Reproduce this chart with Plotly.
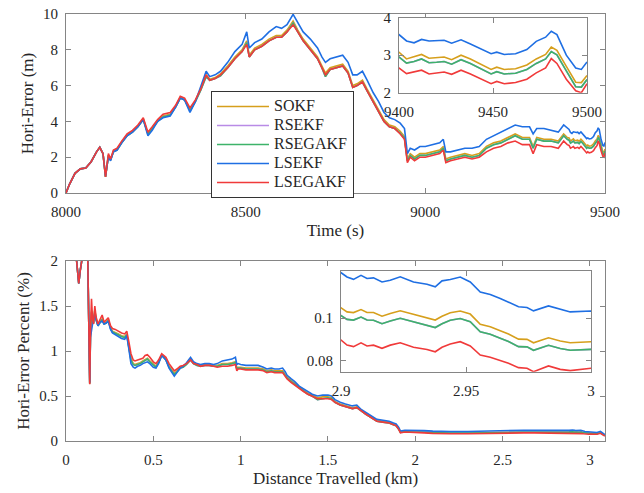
import plotly.graph_objects as go

names = ["SOKF", "RSEKF", "RSEGAKF", "LSEKF", "LSEGAKF"]
colors = ["#D69F1C", "#B98BE6", "#3DB36A", "#1F6FE3", "#F03A3A"]

# ---------------- top panel: time (s) vs horizontal error (m) ----------------
time_a = [8000, 8010, 8025, 8040, 8055, 8070, 8085, 8094, 8103, 8110,
          8118, 8124, 8132, 8142, 8155, 8170, 8185, 8200, 8215, 8228,
          8240, 8255, 8270, 8290, 8305, 8318, 8330, 8345, 8360, 8375,
          8390, 8400, 8415, 8430, 8450, 8470, 8490, 8503, 8510, 8525,
          8545, 8565, 8585, 8600, 8615, 8632, 8645, 8660, 8680, 8700,
          8712, 8722, 8735, 8755, 8770, 8785, 8798, 8810, 8825, 8838,
          8855, 8870, 8885, 8900, 8915, 8930, 8942, 8950, 8958, 8970,
          8985, 9000, 9020, 9040, 9050, 9057, 9070, 9090, 9110, 9130,
          9150, 9170, 9190, 9210, 9230, 9250, 9270, 9290, 9300, 9310,
          9330, 9350, 9370, 9385, 9395]
time_z = [9400, 9404, 9408, 9412, 9416, 9420, 9424, 9428, 9433, 9438,
          9443, 9449, 9452, 9456, 9462, 9468, 9473, 9478, 9481, 9484,
          9489, 9494, 9497, 9500]

sokf_err_a = [0, 0.5, 1.1, 1.35, 1.4, 1.75, 2.3, 2.55, 2.2, 0.9,
              2.1, 1.85, 2.35, 2.45, 2.85, 3.25, 3.45, 3.75, 4.15, 3.3,
              3.6, 4.05, 4.3, 4.4, 4.85, 5.35, 5.25, 4.6, 5.15, 5.8,
              6.6, 6.35, 6.45, 6.65, 7.1, 7.6, 8.0, 8.5, 7.7, 8.1,
              8.3, 8.6, 8.8, 8.8, 9.1, 9.6, 9.1, 8.6, 8.1, 7.6,
              7.1, 6.7, 7.0, 7.1, 7.2, 6.8, 6.0, 6.1, 6.3, 5.8,
              5.2, 4.7, 4.1, 3.8, 3.7, 3.45, 3.15, 1.9, 2.2, 2.0,
              2.2, 2.2, 2.3, 2.4, 2.6, 1.9, 2.0, 2.1, 2.2, 2.1,
              2.2, 2.6, 2.8, 2.9, 3.1, 3.3, 3.1, 3.1, 2.6, 3.1,
              3.0, 3.0, 2.9, 3.3, 3.1]
sokf_err_z = [3.08, 2.9, 2.95, 3.02, 2.92, 2.93, 2.95, 2.88, 3.0, 2.9,
              2.77, 2.62, 2.68, 2.62, 2.64, 2.74, 2.9, 3.02, 3.22, 3.13,
              2.7, 2.28, 2.27, 2.46]

rsekf_err_a = [0, 0.5, 1.1, 1.35, 1.4, 1.75, 2.3, 2.55, 2.2, 0.9,
               2.1, 1.85, 2.3, 2.4, 2.8, 3.2, 3.4, 3.7, 4.1, 3.3,
               3.6, 4.0, 4.25, 4.35, 4.8, 5.3, 5.2, 4.6, 5.1, 5.75,
               6.5, 6.3, 6.4, 6.55, 7.0, 7.5, 7.9, 8.4, 7.6, 8.0,
               8.2, 8.5, 8.7, 8.7, 9.0, 9.5, 9.0, 8.5, 8.0, 7.5,
               7.0, 6.5, 6.9, 7.0, 7.1, 6.7, 5.9, 6.0, 6.2, 5.7,
               5.1, 4.6, 4.0, 3.7, 3.6, 3.35, 3.05, 1.8, 2.1, 1.9,
               2.1, 2.1, 2.2, 2.3, 2.5, 1.8, 1.9, 2.0, 2.1, 2.0,
               2.1, 2.5, 2.7, 2.8, 3.0, 3.2, 3.0, 3.0, 2.5, 3.0,
               2.9, 2.9, 2.8, 3.2, 3.0]
rsekf_err_z = [2.95, 2.79, 2.83, 2.9, 2.8, 2.81, 2.83, 2.76, 2.88, 2.78,
               2.65, 2.5, 2.56, 2.5, 2.52, 2.62, 2.78, 2.9, 3.1, 3.01,
               2.58, 2.16, 2.15, 2.35]

rsegakf_err_a = [0, 0.5, 1.1, 1.35, 1.4, 1.75, 2.3, 2.55, 2.2, 0.9,
                 2.1, 1.85, 2.3, 2.4, 2.8, 3.2, 3.4, 3.7, 4.1, 3.3,
                 3.6, 4.0, 4.25, 4.35, 4.8, 5.3, 5.2, 4.6, 5.1, 5.75,
                 6.5, 6.3, 6.4, 6.55, 7.0, 7.5, 7.9, 8.4, 7.6, 8.0,
                 8.2, 8.5, 8.7, 8.7, 9.0, 9.5, 9.0, 8.5, 8.0, 7.5,
                 7.0, 6.5, 6.9, 7.0, 7.1, 6.7, 5.9, 6.0, 6.2, 5.7,
                 5.1, 4.6, 4.0, 3.7, 3.6, 3.35, 3.05, 1.8, 2.1, 1.9,
                 2.1, 2.1, 2.2, 2.3, 2.5, 1.8, 1.9, 2.0, 2.1, 2.0,
                 2.1, 2.5, 2.7, 2.8, 3.0, 3.2, 3.0, 3.0, 2.5, 3.0,
                 2.9, 2.9, 2.8, 3.2, 3.0]
rsegakf_err_z = [2.95, 2.79, 2.83, 2.9, 2.8, 2.81, 2.83, 2.76, 2.88, 2.78,
                 2.65, 2.5, 2.56, 2.5, 2.52, 2.62, 2.78, 2.9, 3.1, 3.01,
                 2.58, 2.16, 2.15, 2.35]

lsekf_err_a = [0, 0.5, 1.1, 1.35, 1.4, 1.75, 2.3, 2.55, 2.2, 0.95,
               2.0, 1.8, 2.3, 2.4, 2.8, 3.2, 3.4, 3.7, 4.1, 3.2,
               3.5, 4.0, 4.2, 4.3, 4.8, 5.3, 5.2, 4.5, 5.1, 5.9,
               6.8, 6.5, 6.6, 6.8, 7.3, 7.9, 8.3, 9.0, 8.1, 8.4,
               8.6, 9.0, 9.3, 9.2, 9.4, 9.98, 9.5, 9.0, 8.6, 8.1,
               7.6, 7.3, 7.5, 7.6, 7.7, 7.3, 6.6, 6.6, 6.8, 6.3,
               5.6, 5.1, 4.5, 4.2, 4.1, 3.9, 3.6, 2.2, 2.5, 2.4,
               2.6, 2.6, 2.7, 2.8, 3.0, 2.3, 2.3, 2.4, 2.5, 2.5,
               2.6, 3.0, 3.2, 3.4, 3.6, 3.8, 3.7, 3.7, 3.3, 3.6,
               3.6, 3.5, 3.4, 3.8, 3.6]
lsekf_err_z = [3.55, 3.38, 3.33, 3.42, 3.38, 3.38, 3.40, 3.32, 3.41, 3.3,
               3.18, 3.04, 3.08, 3.02, 3.04, 3.15, 3.37, 3.48, 3.64, 3.55,
               3.0, 2.66, 2.62, 2.82]

lsegakf_err_a = [0, 0.5, 1.1, 1.35, 1.4, 1.75, 2.3, 2.55, 2.2, 0.9,
                 2.2, 1.9, 2.4, 2.5, 2.9, 3.3, 3.5, 3.8, 4.2, 3.4,
                 3.7, 4.1, 4.4, 4.5, 4.9, 5.4, 5.3, 4.75, 5.2, 5.8,
                 6.6, 6.3, 6.4, 6.6, 7.0, 7.5, 7.9, 8.3, 7.6, 8.0,
                 8.2, 8.5, 8.7, 8.7, 9.0, 9.4, 9.0, 8.5, 8.0, 7.5,
                 7.0, 6.6, 6.9, 7.0, 7.1, 6.7, 5.9, 6.0, 6.2, 5.7,
                 5.1, 4.6, 4.0, 3.7, 3.6, 3.3, 3.0, 1.7, 2.0, 1.8,
                 2.0, 2.0, 2.1, 2.2, 2.4, 1.7, 1.8, 1.9, 2.0, 1.9,
                 2.0, 2.3, 2.5, 2.6, 2.8, 2.9, 2.7, 2.7, 2.2, 2.7,
                 2.6, 2.6, 2.5, 2.9, 2.7]
lsegakf_err_z = [2.66, 2.51, 2.55, 2.6, 2.5, 2.52, 2.55, 2.49, 2.6, 2.5,
                 2.38, 2.24, 2.30, 2.24, 2.27, 2.36, 2.53, 2.66, 2.91, 2.78,
                 2.36, 2.05, 2.0, 2.24]

# ---------------- bottom panel: distance (km) vs error percent (%) ----------------
dist_a = [0.056, 0.062, 0.073, 0.082, 0.09, 0.1, 0.113, 0.124, 0.131, 0.136,
          0.14, 0.146, 0.152, 0.158, 0.165, 0.172, 0.183, 0.195, 0.207, 0.218,
          0.23, 0.242, 0.255, 0.266, 0.282, 0.3, 0.318, 0.336, 0.348, 0.36,
          0.372, 0.385, 0.395, 0.41, 0.425, 0.44, 0.453, 0.466, 0.48, 0.5,
          0.515, 0.53, 0.548, 0.56, 0.572, 0.59, 0.605, 0.62, 0.635, 0.654,
          0.67, 0.69, 0.713, 0.73, 0.75, 0.77, 0.795, 0.82, 0.845, 0.866,
          0.895, 0.925, 0.95, 0.97, 0.978, 0.985, 1.0, 1.03, 1.06, 1.1,
          1.13, 1.15, 1.175, 1.195, 1.22, 1.24, 1.255, 1.266, 1.29, 1.31,
          1.335, 1.36, 1.385, 1.41, 1.44, 1.47, 1.5, 1.52, 1.54, 1.57,
          1.6, 1.62, 1.64, 1.665, 1.69, 1.715, 1.74, 1.76, 1.78, 1.815,
          1.85, 1.875, 1.89, 1.905, 1.915, 1.94, 1.97, 2.0, 2.05, 2.1,
          2.15, 2.2, 2.3, 2.4, 2.5, 2.56, 2.62, 2.68, 2.75, 2.82,
          2.88]
dist_z = [2.9, 2.9024, 2.905, 2.908, 2.9104, 2.913, 2.9164, 2.9197, 2.9237, 2.929,
          2.9344, 2.9377, 2.9404, 2.9437, 2.9477, 2.9517, 2.9557, 2.9597, 2.9637, 2.967,
          2.971, 2.9744, 2.977, 2.983, 2.9877, 2.9917, 3.0]
dist_t = [3.02, 3.04, 3.06, 3.07, 3.085]

sokf_pct_a = [2.1, 1.95, 1.75, 1.9, 2.0, 2.05, 2.2, 2.1, 1.4, 0.64,
              1.18, 1.45, 1.33, 1.32, 1.46, 1.36, 1.29, 1.33, 1.36, 1.31,
              1.32, 1.35, 1.26, 1.22, 1.21, 1.19, 1.17, 1.16, 1.19, 1.06,
              0.92, 0.86, 0.85, 0.86, 0.87, 0.89, 0.91, 0.92, 0.89, 0.85,
              0.83, 0.88, 0.96, 0.94, 0.91, 0.83, 0.79, 0.75, 0.78, 0.82,
              0.83, 0.86, 0.91, 0.87, 0.85, 0.84, 0.85, 0.85, 0.84, 0.84,
              0.86, 0.86, 0.87, 0.88, 0.81, 0.82, 0.82, 0.81, 0.81, 0.81,
              0.8, 0.78, 0.79, 0.78, 0.78, 0.78, 0.74, 0.71, 0.67, 0.64,
              0.6, 0.56, 0.53, 0.51, 0.48, 0.49, 0.49, 0.48, 0.44, 0.41,
              0.39, 0.38, 0.37, 0.38, 0.34, 0.31, 0.28, 0.25, 0.23, 0.22,
              0.21, 0.19, 0.18, 0.14, 0.1, 0.11, 0.105, 0.1, 0.1, 0.095,
              0.09, 0.09, 0.09, 0.095, 0.1, 0.105, 0.1, 0.1, 0.098, 0.1,
              0.102]
sokf_pct_z = [0.1048, 0.1029, 0.1026, 0.1040, 0.1026, 0.1026, 0.1009, 0.1022, 0.1034, 0.1019,
              0.1003, 0.0991, 0.1009, 0.1025, 0.1033, 0.1019, 0.0971, 0.0960, 0.0941, 0.0926,
              0.0902, 0.0901, 0.0885, 0.0908, 0.0893, 0.0885, 0.0890]
sokf_pct_t = [0.087, 0.083, 0.094, 0.078, 0.062]

rsekf_pct_a = [2.1, 1.95, 1.75, 1.9, 2.0, 2.05, 2.2, 2.1, 1.4, 0.64,
               1.17, 1.43, 1.32, 1.31, 1.45, 1.35, 1.28, 1.32, 1.35, 1.3,
               1.31, 1.34, 1.25, 1.21, 1.2, 1.18, 1.16, 1.15, 1.18, 1.05,
               0.9, 0.85, 0.84, 0.85, 0.86, 0.88, 0.9, 0.91, 0.88, 0.84,
               0.82, 0.87, 0.95, 0.93, 0.9, 0.82, 0.78, 0.74, 0.77, 0.81,
               0.82, 0.85, 0.9, 0.86, 0.84, 0.83, 0.84, 0.84, 0.83, 0.83,
               0.85, 0.85, 0.86, 0.87, 0.8, 0.81, 0.81, 0.8, 0.8, 0.8,
               0.79, 0.77, 0.78, 0.77, 0.77, 0.77, 0.73, 0.7, 0.66, 0.63,
               0.59, 0.55, 0.52, 0.5, 0.46, 0.47, 0.48, 0.47, 0.43, 0.4,
               0.38, 0.37, 0.36, 0.37, 0.33, 0.3, 0.27, 0.24, 0.22, 0.21,
               0.2, 0.18, 0.17, 0.13, 0.095, 0.105, 0.1, 0.097, 0.097, 0.092,
               0.087, 0.087, 0.087, 0.092, 0.097, 0.101, 0.097, 0.097, 0.095, 0.097,
               0.099]
rsekf_pct_z = [0.1012, 0.0994, 0.0991, 0.1005, 0.0991, 0.0990, 0.0974, 0.0987, 0.0999, 0.0983,
               0.0968, 0.0956, 0.0974, 0.0990, 0.0998, 0.0983, 0.0936, 0.0925, 0.0906, 0.0891,
               0.0867, 0.0866, 0.0850, 0.0873, 0.0858, 0.0850, 0.0854]
rsekf_pct_t = [0.084, 0.08, 0.091, 0.075, 0.06]

rsegakf_pct_a = [2.1, 1.95, 1.75, 1.9, 2.0, 2.05, 2.2, 2.1, 1.4, 0.64,
                 1.17, 1.43, 1.32, 1.31, 1.45, 1.35, 1.28, 1.32, 1.35, 1.3,
                 1.31, 1.34, 1.25, 1.21, 1.2, 1.18, 1.16, 1.15, 1.18, 1.05,
                 0.9, 0.85, 0.84, 0.85, 0.86, 0.88, 0.9, 0.91, 0.88, 0.84,
                 0.82, 0.87, 0.95, 0.93, 0.9, 0.82, 0.78, 0.74, 0.77, 0.81,
                 0.82, 0.85, 0.9, 0.86, 0.84, 0.83, 0.84, 0.84, 0.83, 0.83,
                 0.85, 0.85, 0.86, 0.87, 0.8, 0.81, 0.81, 0.8, 0.8, 0.8,
                 0.79, 0.77, 0.78, 0.77, 0.77, 0.77, 0.73, 0.7, 0.66, 0.63,
                 0.59, 0.55, 0.52, 0.5, 0.46, 0.47, 0.48, 0.47, 0.43, 0.4,
                 0.38, 0.37, 0.36, 0.37, 0.33, 0.3, 0.27, 0.24, 0.22, 0.21,
                 0.2, 0.18, 0.17, 0.13, 0.095, 0.105, 0.1, 0.097, 0.097, 0.092,
                 0.087, 0.087, 0.087, 0.092, 0.097, 0.101, 0.097, 0.097, 0.095, 0.097,
                 0.099]
rsegakf_pct_z = [0.1012, 0.0994, 0.0991, 0.1005, 0.0991, 0.0990, 0.0974, 0.0987, 0.0999, 0.0983,
                 0.0968, 0.0956, 0.0974, 0.0990, 0.0998, 0.0983, 0.0936, 0.0925, 0.0906, 0.0891,
                 0.0867, 0.0866, 0.0850, 0.0873, 0.0858, 0.0850, 0.0854]
rsegakf_pct_t = [0.084, 0.08, 0.091, 0.075, 0.06]

lsekf_pct_a = [2.1, 1.95, 1.75, 1.9, 2.0, 2.05, 2.2, 2.1, 1.4, 0.65,
               1.15, 1.25, 1.3, 1.35, 1.42, 1.35, 1.28, 1.32, 1.33, 1.3,
               1.31, 1.33, 1.24, 1.2, 1.18, 1.16, 1.14, 1.13, 1.17, 1.02,
               0.86, 0.82, 0.81, 0.83, 0.84, 0.86, 0.87, 0.88, 0.86, 0.82,
               0.81, 0.86, 0.95, 0.93, 0.9, 0.81, 0.76, 0.72, 0.76, 0.81,
               0.83, 0.87, 0.93, 0.88, 0.86, 0.85, 0.86, 0.86, 0.85, 0.86,
               0.89, 0.9, 0.91, 0.93, 0.85, 0.86, 0.85, 0.84, 0.84, 0.84,
               0.82, 0.8, 0.81, 0.8, 0.8, 0.81, 0.77, 0.73, 0.69, 0.66,
               0.61, 0.58, 0.55, 0.52, 0.5, 0.51, 0.51, 0.5, 0.46, 0.43,
               0.41, 0.4, 0.39, 0.4, 0.35, 0.32, 0.29, 0.26, 0.24, 0.23,
               0.22, 0.2, 0.19, 0.15, 0.11, 0.12, 0.12, 0.115, 0.115, 0.11,
               0.105, 0.105, 0.105, 0.11, 0.12, 0.125, 0.12, 0.118, 0.116, 0.118,
               0.118]
lsekf_pct_z = [0.1212, 0.1192, 0.1181, 0.1200, 0.1185, 0.1188, 0.1169, 0.1177, 0.1193, 0.1169,
               0.1158, 0.1146, 0.1174, 0.1180, 0.1192, 0.1169, 0.1122, 0.1110, 0.1092, 0.1076,
               0.1053, 0.1050, 0.1034, 0.1057, 0.1040, 0.1029, 0.1033]
lsekf_pct_t = [0.1, 0.095, 0.108, 0.09, 0.072]

lsegakf_pct_a = [2.1, 1.95, 1.75, 1.9, 2.0, 2.05, 2.2, 2.1, 1.4, 0.63,
                 1.2, 1.58, 1.35, 1.3, 1.5, 1.38, 1.3, 1.35, 1.4, 1.32,
                 1.34, 1.37, 1.28, 1.25, 1.24, 1.22, 1.2, 1.19, 1.22, 1.1,
                 0.97, 0.9, 0.89, 0.9, 0.91, 0.92, 0.95, 0.96, 0.93, 0.88,
                 0.86, 0.9, 0.97, 0.95, 0.93, 0.86, 0.82, 0.78, 0.8, 0.83,
                 0.84, 0.86, 0.9, 0.86, 0.85, 0.83, 0.84, 0.84, 0.83, 0.82,
                 0.83, 0.83, 0.84, 0.85, 0.78, 0.8, 0.8, 0.79, 0.79, 0.79,
                 0.78, 0.76, 0.77, 0.76, 0.76, 0.76, 0.72, 0.69, 0.65, 0.62,
                 0.58, 0.55, 0.52, 0.5, 0.47, 0.47, 0.47, 0.46, 0.43, 0.4,
                 0.38, 0.37, 0.36, 0.37, 0.33, 0.3, 0.27, 0.24, 0.22, 0.21,
                 0.2, 0.18, 0.17, 0.13, 0.09, 0.1, 0.095, 0.09, 0.09, 0.085,
                 0.08, 0.08, 0.08, 0.085, 0.09, 0.095, 0.09, 0.09, 0.088, 0.09,
                 0.088]
lsegakf_pct_z = [0.0898, 0.0874, 0.0867, 0.0885, 0.0870, 0.0874, 0.0859, 0.0874, 0.0885, 0.0864,
                 0.0854, 0.0843, 0.0864, 0.0879, 0.0890, 0.0870, 0.0828, 0.0817, 0.0801, 0.0789,
                 0.0769, 0.0766, 0.0750, 0.0777, 0.0761, 0.0755, 0.0766]
lsegakf_pct_t = [0.078, 0.075, 0.085, 0.07, 0.055]

top_x_ticks = [8000, 8500, 9000, 9500]
top_y_ticks = [0, 2, 4, 6, 8, 10]
top_inset_x_ticks = [9400, 9450, 9500]
top_inset_y_ticks = [2, 3, 4]
bot_x_ticks = [0, 0.5, 1, 1.5, 2, 2.5, 3]
bot_y_ticks = [0, 0.5, 1, 1.5, 2]
bot_inset_x_ticks = [2.9, 2.95, 3]
bot_inset_x_labels = ["2.9", "2.95", "3"]
bot_inset_y_ticks = [0.08, 0.1]
bot_inset_y_labels = ["0.08", "0.1"]

# ---------------- build ----------------
time_all = time_a + time_z
dist_all = dist_a + dist_z + dist_t
err_series = [sokf_err_a + sokf_err_z, rsekf_err_a + rsekf_err_z,
              rsegakf_err_a + rsegakf_err_z, lsekf_err_a + lsekf_err_z,
              lsegakf_err_a + lsegakf_err_z]
pct_series = [sokf_pct_a + sokf_pct_z + sokf_pct_t,
              rsekf_pct_a + rsekf_pct_z + rsekf_pct_t,
              rsegakf_pct_a + rsegakf_pct_z + rsegakf_pct_t,
              lsekf_pct_a + lsekf_pct_z + lsekf_pct_t,
              lsegakf_pct_a + lsegakf_pct_z + lsegakf_pct_t]

FAM = "Liberation Serif"
fig = go.Figure()
LW = 1.6
for n, c, e in zip(names, colors, err_series):
    # legend rows are kept compact (small legend font) while the label itself is 16px
    fig.add_trace(go.Scatter(x=time_all, y=e, mode="lines",
                             name='<span style="font-size:16px">' + n + '</span>',
                             line=dict(color=c, width=LW), xaxis="x", yaxis="y"))
for n, c, e in zip(names, colors, err_series):
    fig.add_trace(go.Scatter(x=time_all, y=e, mode="lines", name=n, showlegend=False,
                             line=dict(color=c, width=LW), xaxis="x2", yaxis="y2"))
for n, c, p in zip(names, colors, pct_series):
    fig.add_trace(go.Scatter(x=dist_all, y=p, mode="lines", name=n, showlegend=False,
                             line=dict(color=c, width=LW), xaxis="x3", yaxis="y3"))
for n, c, p in zip(names, colors, pct_series):
    fig.add_trace(go.Scatter(x=dist_all, y=p, mode="lines", name=n, showlegend=False,
                             line=dict(color=c, width=LW), xaxis="x4", yaxis="y4"))

W, H = 644, 493
def px_x(a, b):
    return [a / W, b / W]
def px_y(top, bottom):
    return [(H - bottom) / H, (H - top) / H]

AX = dict(showline=True, linecolor="#858585", linewidth=1, mirror="ticks",
          ticks="inside", ticklen=5, tickcolor="#858585", showgrid=False,
          zeroline=False, automargin=False,
          tickfont=dict(family=FAM, size=15, color="#262626"))
AXX = dict(AX, ticklabelstandoff=5)
AXY = dict(AX, ticklabelstandoff=4)
TITLEFONT = dict(family=FAM, size=17, color="#262626")

fig.update_layout(
    width=W, height=H, margin=dict(l=0, r=0, t=0, b=0, autoexpand=False),
    paper_bgcolor="white", plot_bgcolor="white",
    font=dict(family=FAM, size=15, color="#262626"),
    xaxis=dict(AXX, domain=px_x(66, 605), range=[8000, 9500], tickvals=top_x_ticks,
               anchor="y", title=dict(text="Time (s)", font=TITLEFONT, standoff=5)),
    yaxis=dict(AXY, domain=px_y(14, 193), range=[0, 10], tickvals=top_y_ticks,
               anchor="x", title=dict(text="Hori-Error (m)", font=TITLEFONT, standoff=5)),
    xaxis2=dict(AXX, domain=px_x(399, 587), range=[9400, 9500], tickvals=top_inset_x_ticks,
                anchor="y2"),
    yaxis2=dict(AXY, domain=px_y(17.7, 92.7), range=[2, 4], tickvals=top_inset_y_ticks,
                anchor="x2"),
    xaxis3=dict(AXX, domain=px_x(66, 605), range=[0, 3.086], tickvals=bot_x_ticks,
                anchor="y3",
                title=dict(text="Distance Travelled (km)", font=TITLEFONT, standoff=5)),
    yaxis3=dict(AXY, domain=px_y(261, 441), range=[0, 2], tickvals=bot_y_ticks,
                anchor="x3",
                title=dict(text="Hori-Error Percent (%)", font=TITLEFONT, standoff=5)),
    xaxis4=dict(AXX, domain=px_x(341, 591), range=[2.9, 3.0], tickvals=bot_inset_x_ticks,
                ticktext=bot_inset_x_labels, anchor="y4"),
    yaxis4=dict(AXY, domain=px_y(271, 371.7), range=[0.075, 0.122],
                tickvals=bot_inset_y_ticks, ticktext=bot_inset_y_labels,
                anchor="x4"),
    legend=dict(x=211 / W, y=(H - 91) / H, xanchor="left", yanchor="top",
                bgcolor="white", bordercolor="#333333", borderwidth=1,
                font=dict(family=FAM, size=11, color="#262626"), itemwidth=52,
                tracegroupgap=0),
    showlegend=True,
)

fig.write_html("out.html", config={"displayModeBar": False},
               post_script="document.body.style.margin='0px';document.body.style.padding='0px';")
